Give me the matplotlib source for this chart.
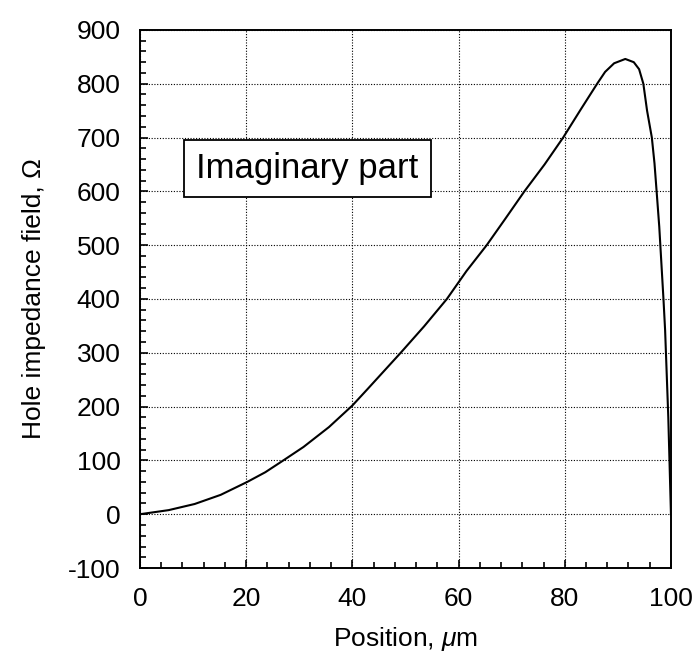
import matplotlib.pyplot as plt
from matplotlib.ticker import MultipleLocator

# Imaginary part of the hole impedance field along the device
position = [0, 5.4, 10.3, 15.2, 20.2, 23.6, 27, 30.8, 35.6, 40, 42.9, 49.1,
            53.5, 57.8, 61.5, 65.3, 68.8, 72.4, 76.2, 79.7, 83.0, 86.1, 87.6,
            89.3, 91.4, 93.0, 94.0, 94.8, 95.5, 96.4, 96.9, 97.3, 97.8, 98.6,
            98.9, 99.5, 100]
imag_part = [0, 7.6, 19, 36, 60, 78, 100, 125, 162, 202, 233, 300,
             349, 400, 452, 500, 549, 600, 650, 700, 752, 800, 822,
             838, 846, 840, 827, 800, 750, 700, 652, 600, 534, 398,
             342, 180, 0]

x_ticks = [0, 20, 40, 60, 80, 100]
y_ticks = [-100, 0, 100, 200, 300, 400, 500, 600, 700, 800, 900]

plt.rcParams['font.family'] = ['Liberation Sans', 'DejaVu Sans']
plt.rcParams['mathtext.fontset'] = 'custom'
plt.rcParams['mathtext.it'] = 'Liberation Sans:italic'
plt.rcParams['axes.unicode_minus'] = False

fig = plt.figure(figsize=(6.95, 6.66), dpi=100)
ax = fig.add_axes([0.2014, 0.1471, 0.764, 0.808])

ax.plot(position, imag_part, color="black", linewidth=1.5)

ax.set_xlim(0, 100)
ax.set_ylim(-100, 900)
ax.set_xticks(x_ticks)
ax.set_yticks(y_ticks)
ax.xaxis.set_minor_locator(MultipleLocator(4))
ax.yaxis.set_minor_locator(MultipleLocator(20))
ax.tick_params(which="both", direction="in", top=False, right=False,
               labelsize=19, pad=14, width=1.2)
ax.tick_params(which="major", length=6)
ax.tick_params(which="minor", length=4)
ax.grid(True, which="major", color="black", linestyle=(0, (1, 1.5)), linewidth=0.8)

for spine in ax.spines.values():
    spine.set_linewidth(1.4)

ax.set_xlabel(r"Position, $\mathit{\mu}$m", fontsize=19, labelpad=10)
ax.set_ylabel("Hole impedance field, Ω", fontsize=19, labelpad=16)

ax.text(31.5, 643, "Imaginary part", fontsize=25, ha="center", va="center",
        bbox=dict(boxstyle="square,pad=0.35", facecolor="white",
                  edgecolor="black", linewidth=1.3), zorder=5)

fig.savefig("out.png", dpi=100)
